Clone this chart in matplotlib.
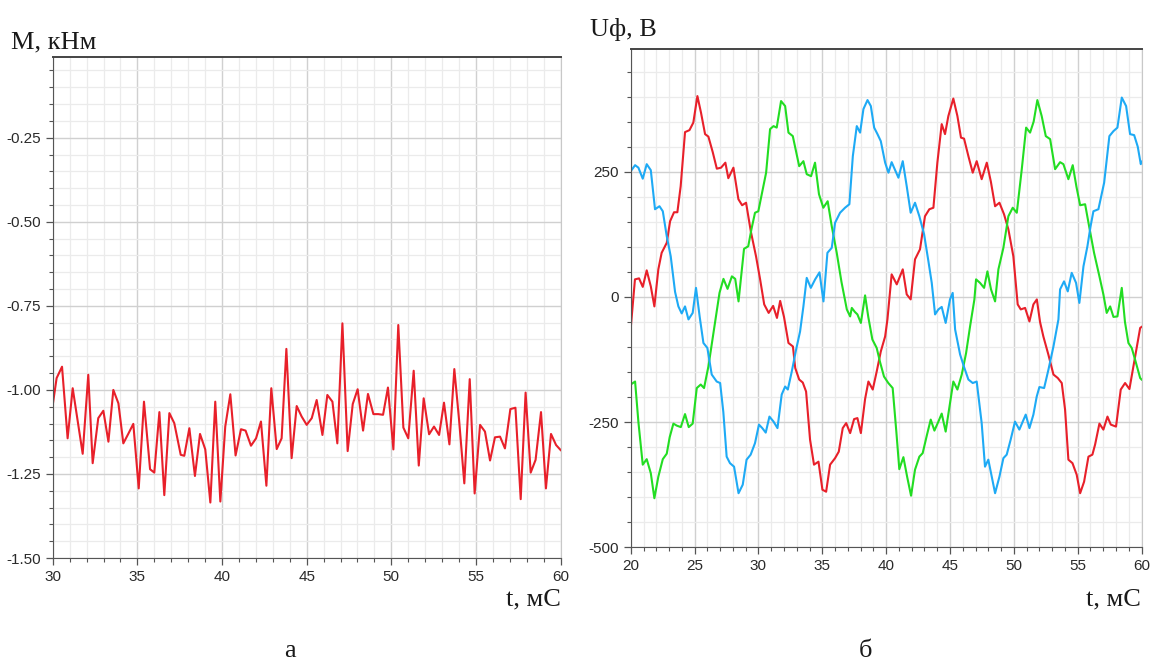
import matplotlib
matplotlib.use("Agg")
import matplotlib.pyplot as plt
from matplotlib.ticker import MultipleLocator

plt.rcParams["axes.unicode_minus"] = False

# --- (а) torque M, kNm ---
t_m = [30.0, 30.23, 30.55, 30.88, 31.18, 31.77, 32.10, 32.36, 32.69, 32.99, 33.29, 33.58, 33.88,
       34.17, 34.47, 34.76, 35.08, 35.39, 35.75, 36.0, 36.30, 36.59, 36.89, 37.18, 37.56, 37.77,
       38.07, 38.40, 38.70, 39.01, 39.31, 39.60, 39.90, 40.19, 40.49, 40.80, 41.12, 41.39, 41.71,
       42.01, 42.30, 42.62, 42.91, 43.23, 43.52, 43.80, 44.11, 44.41, 44.70, 45.0, 45.30, 45.59,
       45.93, 46.22, 46.52, 46.81, 47.11, 47.42, 47.72, 48.01, 48.33, 48.62, 48.94, 49.23, 49.51,
       49.80, 50.12, 50.41, 50.71, 51.0, 51.32, 51.62, 51.91, 52.23, 52.52, 52.82, 53.11, 53.43,
       53.72, 54.0, 54.31, 54.63, 54.92, 55.24, 55.53, 55.83, 56.12, 56.42, 56.71, 57.03, 57.33,
       57.64, 57.93, 58.23, 58.52, 58.84, 59.13, 59.43, 59.73, 60.0]
m_vals = [-1.045, -0.965, -0.931, -1.144, -0.995, -1.190, -0.955, -1.218, -1.084, -1.062, -1.154,
          -1.000, -1.040, -1.159, -1.130, -1.101, -1.293, -1.035, -1.236, -1.246, -1.066, -1.313,
          -1.069, -1.099, -1.193, -1.196, -1.114, -1.256, -1.131, -1.177, -1.335, -1.035, -1.332,
          -1.109, -1.013, -1.195, -1.117, -1.121, -1.166, -1.144, -1.094, -1.285, -0.995, -1.176,
          -1.144, -0.878, -1.203, -1.048, -1.079, -1.104, -1.084, -1.030, -1.134, -1.015, -1.035,
          -1.159, -0.802, -1.182, -1.042, -0.998, -1.121, -1.012, -1.072, -1.072, -1.074, -0.993,
          -1.177, -0.807, -1.112, -1.144, -0.943, -1.225, -1.025, -1.132, -1.109, -1.134, -1.038,
          -1.162, -0.938, -1.089, -1.278, -0.968, -1.308, -1.104, -1.124, -1.210, -1.141, -1.139,
          -1.174, -1.057, -1.053, -1.325, -1.008, -1.246, -1.208, -1.066, -1.293, -1.131, -1.164,
          -1.179]

# --- (б) phase voltages, V ---
t_red = [20.0, 20.33, 20.65, 20.94, 21.25, 21.57, 21.85, 22.16, 22.42, 22.82, 23.08, 23.39, 23.65,
         23.91, 24.25, 24.6, 24.9, 25.22, 25.5, 25.82, 26.08, 26.42, 26.74, 27.07, 27.41, 27.64,
         28.04, 28.43, 28.72, 29.03, 29.4, 29.81, 30.13, 30.45, 30.8, 31.15, 31.45, 31.7, 32.0,
         32.35, 32.7, 32.88, 33.19, 33.47, 33.73, 34.04, 34.35, 34.7, 35.01, 35.3, 35.61, 36.0,
         36.29, 36.6, 36.87, 37.18, 37.49, 37.75, 38.02, 38.35, 38.61, 38.95, 39.26, 39.58, 39.92,
         40.1, 40.43, 40.83, 41.3, 41.61, 41.92, 42.26, 42.65, 43.04, 43.38, 43.7, 44.01, 44.35,
         44.61, 44.87, 45.26, 45.58, 45.86, 46.1, 46.44, 46.78, 47.09, 47.48, 47.88, 48.2, 48.53,
         48.87, 49.23, 49.57, 49.96, 50.3, 50.54, 50.88, 51.22, 51.53, 51.8, 52.05, 52.31, 52.7,
         53.1, 53.44, 53.75, 54.01, 54.27, 54.59, 54.92, 55.19, 55.5, 55.84, 56.15, 56.36, 56.7,
         57.01, 57.33, 57.59, 58.0, 58.37, 58.71, 59.05, 59.36, 59.89, 60.0]
u_red = [-62, 35, 37, 20, 53, 21, -19, 55, 88, 108, 151, 169, 169,
         221, 329, 333, 348, 401, 368, 325, 320, 289, 256, 258, 268, 237,
         258, 195, 183, 188, 131, 81, 35, -15, -32, -18, -42, -8, -40,
         -92, -99, -142, -165, -171, -189, -285, -335, -329, -385, -389, -335, -322,
         -309, -262, -252, -272, -244, -242, -272, -204, -169, -185, -149, -109, -79,
         -45, 45, 25, 55, 5, -5, 75, 95, 161, 175, 178, 268, 345,
         325, 361, 396, 361, 318, 316, 281, 248, 271, 235, 268, 230, 181,
         188, 165, 135, 81, -15, -25, -22, -49, -15, -5, -50, -79, -115,
         -155, -162, -172, -225, -325, -332, -355, -392, -369, -319, -315, -295, -253,
         -265, -239, -255, -259, -185, -172, -184, -139, -62, -60]

t_blue = [20.0, 20.34, 20.6, 20.94, 21.25, 21.57, 21.9, 22.25, 22.51, 22.82, 23.13, 23.47, 23.73,
          23.99, 24.25, 24.52, 24.85, 25.11, 25.4, 25.69, 26.0, 26.34, 26.73, 27.0, 27.25, 27.51,
          27.77, 28.09, 28.44, 28.77, 29.07, 29.39, 29.73, 30.04, 30.3, 30.57, 30.86, 31.18, 31.49,
          31.82, 32.09, 32.3, 32.61, 32.95, 33.26, 33.52, 33.78, 34.1, 34.44, 34.78, 35.09, 35.4,
          35.74, 36.0, 36.39, 36.78, 37.12, 37.39, 37.7, 37.96, 38.22, 38.54, 38.8, 39.06, 39.32,
          39.58, 39.92, 40.18, 40.43, 40.96, 41.3, 41.61, 41.92, 42.26, 42.6, 42.97, 43.31, 43.57,
          43.83, 44.09, 44.35, 44.66, 45.0, 45.21, 45.4, 45.79, 46.1, 46.44, 46.78, 47.09, 47.48,
          47.74, 48.0, 48.53, 48.87, 49.18, 49.44, 49.75, 50.09, 50.43, 50.93, 51.22, 51.53, 51.79,
          52.0, 52.37, 52.71, 53.1, 53.49, 53.62, 53.93, 54.22, 54.53, 54.87, 55.13, 55.45, 55.76,
          56.0, 56.23, 56.62, 57.07, 57.48, 57.8, 58.11, 58.45, 58.79, 59.1, 59.42, 59.7, 59.94, 60.0]
u_blue = [251, 263, 258, 236, 265, 253, 175, 181, 171, 121, 81, 10, -19,
          -33, -19, -45, -32, 18, -40, -92, -102, -155, -169, -172, -230, -319,
          -332, -339, -392, -375, -325, -315, -292, -255, -262, -271, -239, -249, -262,
          -195, -179, -185, -149, -105, -69, -19, 38, 18, 35, 49, -9, 88,
          98, 148, 168, 178, 185, 281, 341, 328, 375, 393, 381, 338, 325,
          311, 268, 248, 269, 238, 271, 221, 168, 188, 161, 125, 71, 28,
          -35, -25, -20, -52, -5, 8, -65, -115, -140, -165, -172, -169, -252,
          -339, -325, -392, -359, -322, -315, -285, -249, -265, -235, -262, -235, -199,
          -180, -182, -145, -99, -45, 15, 31, 11, 48, 28, -12, 61, 101,
          140, 171, 175, 228, 321, 331, 338, 398, 381, 325, 323, 300, 265, 270]

t_green = [20.0, 20.34, 20.6, 20.94, 21.25, 21.57, 21.85, 22.16, 22.51, 22.82, 23.05, 23.34, 23.6,
           23.92, 24.25, 24.54, 24.85, 25.17, 25.48, 25.74, 26.08, 26.42, 26.74, 26.95, 27.26, 27.58,
           27.92, 28.18, 28.44, 28.87, 29.2, 29.45, 29.73, 29.99, 30.3, 30.6, 30.91, 31.18, 31.43,
           31.77, 32.09, 32.35, 32.69, 32.95, 33.19, 33.52, 33.78, 34.12, 34.43, 34.74, 35.08, 35.42,
           35.74, 36.13, 36.5, 36.92, 37.18, 37.31, 37.55, 37.75, 38.02, 38.35, 38.6, 38.92, 39.26,
           39.52, 39.83, 40.17, 40.51, 40.8, 41.03, 41.35, 41.65, 41.95, 42.26, 42.6, 42.86, 43.2,
           43.49, 43.78, 44.09, 44.35, 44.66, 44.95, 45.26, 45.58, 45.92, 46.26, 46.57, 46.91, 47.04,
           47.35, 47.67, 47.93, 48.21, 48.53, 48.79, 49.18, 49.57, 49.91, 50.23, 50.62, 50.96, 51.27,
           51.55, 51.84, 52.18, 52.5, 52.84, 53.23, 53.62, 53.88, 54.27, 54.61, 54.9, 55.19, 55.58,
           55.9, 56.28, 56.7, 57.01, 57.27, 57.54, 57.8, 58.11, 58.45, 58.7, 58.97, 59.23, 59.49,
           59.89, 60.0]
u_green = [-175, -169, -250, -335, -324, -352, -402, -359, -324, -313, -280, -253, -257,
           -260, -234, -260, -253, -182, -175, -182, -139, -82, -29, 8, 36, 16,
           41, 36, -9, 96, 101, 135, 168, 171, 210, 248, 335, 341, 338,
           391, 381, 328, 321, 290, 261, 271, 245, 241, 268, 205, 178, 191,
           141, 88, 30, -25, -39, -22, -30, -35, -52, 3, -40, -85, -102,
           -130, -159, -172, -182, -270, -344, -320, -360, -397, -345, -319, -312, -275,
           -245, -267, -249, -233, -269, -220, -169, -185, -155, -112, -59, -5, 35,
           28, 18, 51, 15, -9, 55, 98, 161, 178, 168, 255, 338, 328,
           350, 393, 361, 321, 315, 255, 269, 265, 235, 263, 220, 183, 185,
           140, 88, 41, 5, -32, -19, -40, -39, 18, -50, -92, -102, -125,
           -162, -165]

tick_font = ["Liberation Sans Narrow", "Liberation Sans", "DejaVu Sans"]
label_font = ["Liberation Serif", "DejaVu Serif"]


def style_axes(ax):
    ax.set_facecolor("white")
    ax.grid(which="minor", color="#ebebeb", lw=0.9)
    ax.grid(which="major", color="#d0d0d0", lw=1.0)
    ax.set_axisbelow(True)
    ax.spines["left"].set_color("#555555")
    ax.spines["bottom"].set_color("#555555")
    ax.spines["top"].set_color("#444444")
    ax.spines["top"].set_linewidth(1.4)
    ax.spines["right"].set_color("#c8c8c8")
    ax.tick_params(which="both", direction="out", colors="#555555", labelcolor="#2a2a2a",
                   top=False, right=False)
    ax.tick_params(which="major", length=5, width=0.9)
    ax.tick_params(which="minor", length=3, width=0.8)
    for lab in ax.get_xticklabels() + ax.get_yticklabels():
        lab.set_family(tick_font)
        lab.set_fontsize(11)


fig = plt.figure(figsize=(11.51, 6.61), dpi=100)

ax1 = fig.add_axes([0.0458, 0.1558, 0.4413, 0.7579])
ax1.plot(t_m, m_vals, color="#e8202a", lw=1.5)
ax1.set_xlim(30, 60)
ax1.set_ylim(-1.5, -0.01)
ax1.set_xticks(range(30, 61, 5))
ax1.set_yticks([-1.5, -1.25, -1.0, -0.75, -0.5, -0.25])
ax1.set_yticklabels(["-1.50", "-1.25", "-1.00", "-0.75", "-0.50", "-0.25"])
ax1.xaxis.set_minor_locator(MultipleLocator(1))
ax1.yaxis.set_minor_locator(MultipleLocator(0.05))
style_axes(ax1)

ax2 = fig.add_axes([0.5480, 0.1720, 0.4438, 0.7539])
ax2.plot(t_red, u_red, color="#e8202a", lw=1.5)
ax2.plot(t_green, u_green, color="#22dd22", lw=1.5)
ax2.plot(t_blue, u_blue, color="#1eaaf5", lw=1.5)
ax2.set_xlim(20, 60)
ax2.set_ylim(-500, 495)
ax2.set_xticks(range(20, 61, 5))
ax2.set_yticks([-500, -250, 0, 250])
ax2.xaxis.set_minor_locator(MultipleLocator(1))
ax2.yaxis.set_minor_locator(MultipleLocator(50))
style_axes(ax2)

fig.text(11 / 1151, 1 - 48 / 661, "M, кНм", family=label_font, fontsize=19, color="#1a1a1a")
fig.text(561 / 1151, 1 - 605 / 661, "t, мС", family=label_font, fontsize=19, color="#1a1a1a", ha="right")
fig.text(590 / 1151, 1 - 36 / 661, "Uф, В", family=label_font, fontsize=19, color="#1a1a1a")
fig.text(1141 / 1151, 1 - 605 / 661, "t, мС", family=label_font, fontsize=19, color="#1a1a1a", ha="right")
fig.text(290 / 1151, 1 - 657 / 661, "а", family=label_font, fontsize=19, color="#1a1a1a", ha="center")
fig.text(865 / 1151, 1 - 657 / 661, "б", family=label_font, fontsize=19, color="#1a1a1a", ha="center")

fig.savefig("out.png", dpi=100, facecolor="white")
